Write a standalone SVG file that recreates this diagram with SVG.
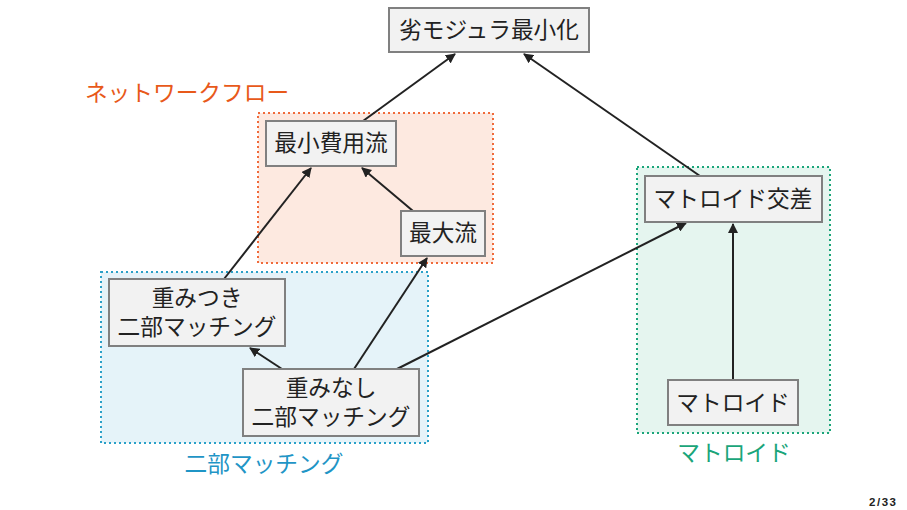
<svg xmlns="http://www.w3.org/2000/svg" width="907" height="510" viewBox="0 0 907 510">
<defs>
<style>
.node rect{fill:#f2f2f2;stroke:#808080;stroke-width:2}
.node text,.lbl{font-family:"Noto Sans CJK JP","Noto Sans",sans-serif;font-size:22.7px;text-anchor:middle}
.node text{fill:#222}
.edge{stroke:#222;stroke-width:2;fill:none;marker-end:url(#ah)}
.cl{stroke-width:2;stroke-dasharray:2 3}
</style>
<marker id="ah" viewBox="0 0 10 10" refX="9" refY="5" markerWidth="5" markerHeight="5" orient="auto" markerUnits="strokeWidth">
<path d="M0,0 L10,5 L0,10 z" fill="#222"/>
</marker>
</defs>
<rect width="907" height="510" fill="#fff"/>
<g id="clusters">
<rect class="cl" x="258" y="113" width="235" height="150" fill="#fde9e0" stroke="#f06a3a"/>
<rect class="cl" x="101" y="272" width="327" height="171" fill="#e5f3f9" stroke="#2aa0c8"/>
<rect class="cl" x="637" y="167" width="193" height="266" fill="#e5f5ef" stroke="#1aa57a"/>
<text class="lbl" x="187" y="101" fill="#e8591a">ネットワークフロー</text>
<text class="lbl" x="264" y="472" fill="#1f95c6">二部マッチング</text>
<text class="lbl" x="734" y="461" fill="#1aa57a">マトロイド</text>
</g>
<g id="edges">
<line class="edge" x1="363" y1="121" x2="455" y2="54"/>
<line class="edge" x1="700" y1="176" x2="524" y2="54"/>
<line class="edge" x1="413" y1="211" x2="362" y2="168"/>
<line class="edge" x1="224" y1="279" x2="311" y2="168"/>
<line class="edge" x1="282" y1="369" x2="250" y2="348"/>
<line class="edge" x1="354" y1="369" x2="427" y2="258"/>
<line class="edge" x1="397" y1="369" x2="686" y2="223"/>
<line class="edge" x1="733" y1="380" x2="733" y2="224"/>
</g>
<g id="n_submod" class="node"><rect x="389" y="8" width="200" height="44"/><text x="489" y="38">劣モジュラ最小化</text></g>
<g id="n_mincost" class="node"><rect x="266" y="121" width="130" height="45"/><text x="331" y="151">最小費用流</text></g>
<g id="n_maxflow" class="node"><rect x="401" y="211" width="84" height="45"/><text x="443" y="241">最大流</text></g>
<g id="n_weighted" class="node"><rect x="109" y="279" width="176" height="67"/><text x="197" y="306">重みつき</text><text x="197" y="335">二部マッチング</text></g>
<g id="n_unweighted" class="node"><rect x="243" y="369" width="176" height="67"/><text x="331" y="396">重みなし</text><text x="331" y="425">二部マッチング</text></g>
<g id="n_matint" class="node"><rect x="645" y="176" width="177" height="46"/><text x="733" y="207">マトロイド交差</text></g>
<g id="n_matroid" class="node"><rect x="668" y="380" width="130" height="45"/><text x="733" y="411">マトロイド</text></g>
<text x="869" y="506" font-family="Liberation Sans,Arial,sans-serif" font-size="11.5" font-weight="bold" fill="#222" textLength="27" lengthAdjust="spacing">2/33</text>
</svg>
